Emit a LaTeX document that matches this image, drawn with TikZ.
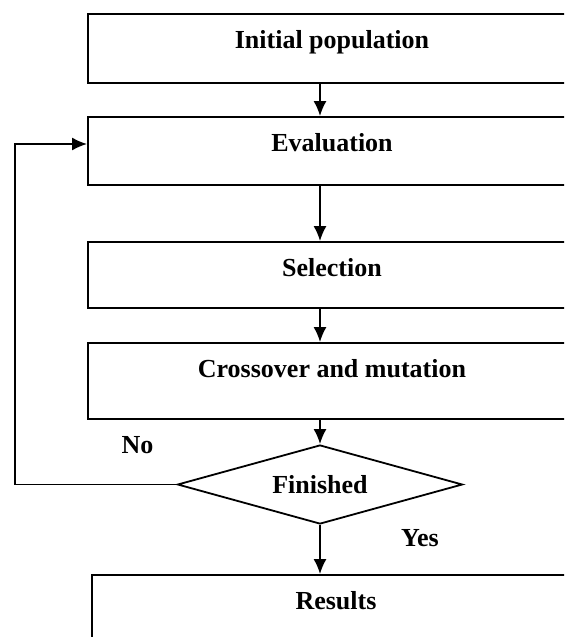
\documentclass[tikz,border=0pt]{standalone}
\usepackage{fontspec}
\setmainfont{Liberation Serif}
\usetikzlibrary{arrows.meta,shapes.geometric}

\begin{document}
\begin{tikzpicture}[->,>={Latex[length=7.5pt,width=6.5pt]},line width=0.9pt,
  font=\fontsize{13pt}{15pt}\selectfont\bfseries,
  stage/.style={rectangle,draw,inner sep=0pt,minimum width=244pt,
  text height=17pt,text depth=#1},
  test/.style={diamond,draw,aspect=3.6,inner sep=0pt,minimum width=142.5pt,
  minimum height=39.5pt},
  answer/.style={inner sep=1pt}]

  \useasboundingbox (0,0) rectangle (282pt,-318.5pt);
  \clip (0,0) rectangle (282pt,-318.5pt);

  \node[stage=17.5pt] (init) at (166pt,-24.25pt) {Initial population};
  \node[stage=17pt] (eval) [below of=init,node distance=51.25pt] {Evaluation};
  \node[stage=16pt] (sel) [below of=eval,node distance=62pt] {Selection};
  \node[stage=21pt] (cross) [below of=sel,node distance=53pt] {Crossover and mutation};
  \node[test] (fin) [below of=cross,node distance=51.75pt,xshift=-6pt] {Finished};
  \node[stage=18pt] (res) [below of=fin,node distance=62.75pt,xshift=8pt] {Results};

  % arrows run down the axis of the test, not the box centres
  \draw (init.south -| fin.north) -- (eval.north -| fin.north);
  \draw (eval.south -| fin.north) -- (sel.north -| fin.north);
  \draw (sel.south -| fin.north) -- (cross.north -| fin.north);
  \draw (cross.south -| fin.north) -- (fin.north);
  \draw (fin.south) -- (res.north -| fin.south);
  \draw (fin.west) -- ++(-81pt,0) |- ([yshift=3.5pt]eval.west);

  \node[answer] (no) at ([xshift=-19.5pt,yshift=19.5pt]fin.west) {No};
  \node[answer] (yes) at ([xshift=50pt,yshift=-6.5pt]fin.south) {Yes};

\end{tikzpicture}
\end{document}
